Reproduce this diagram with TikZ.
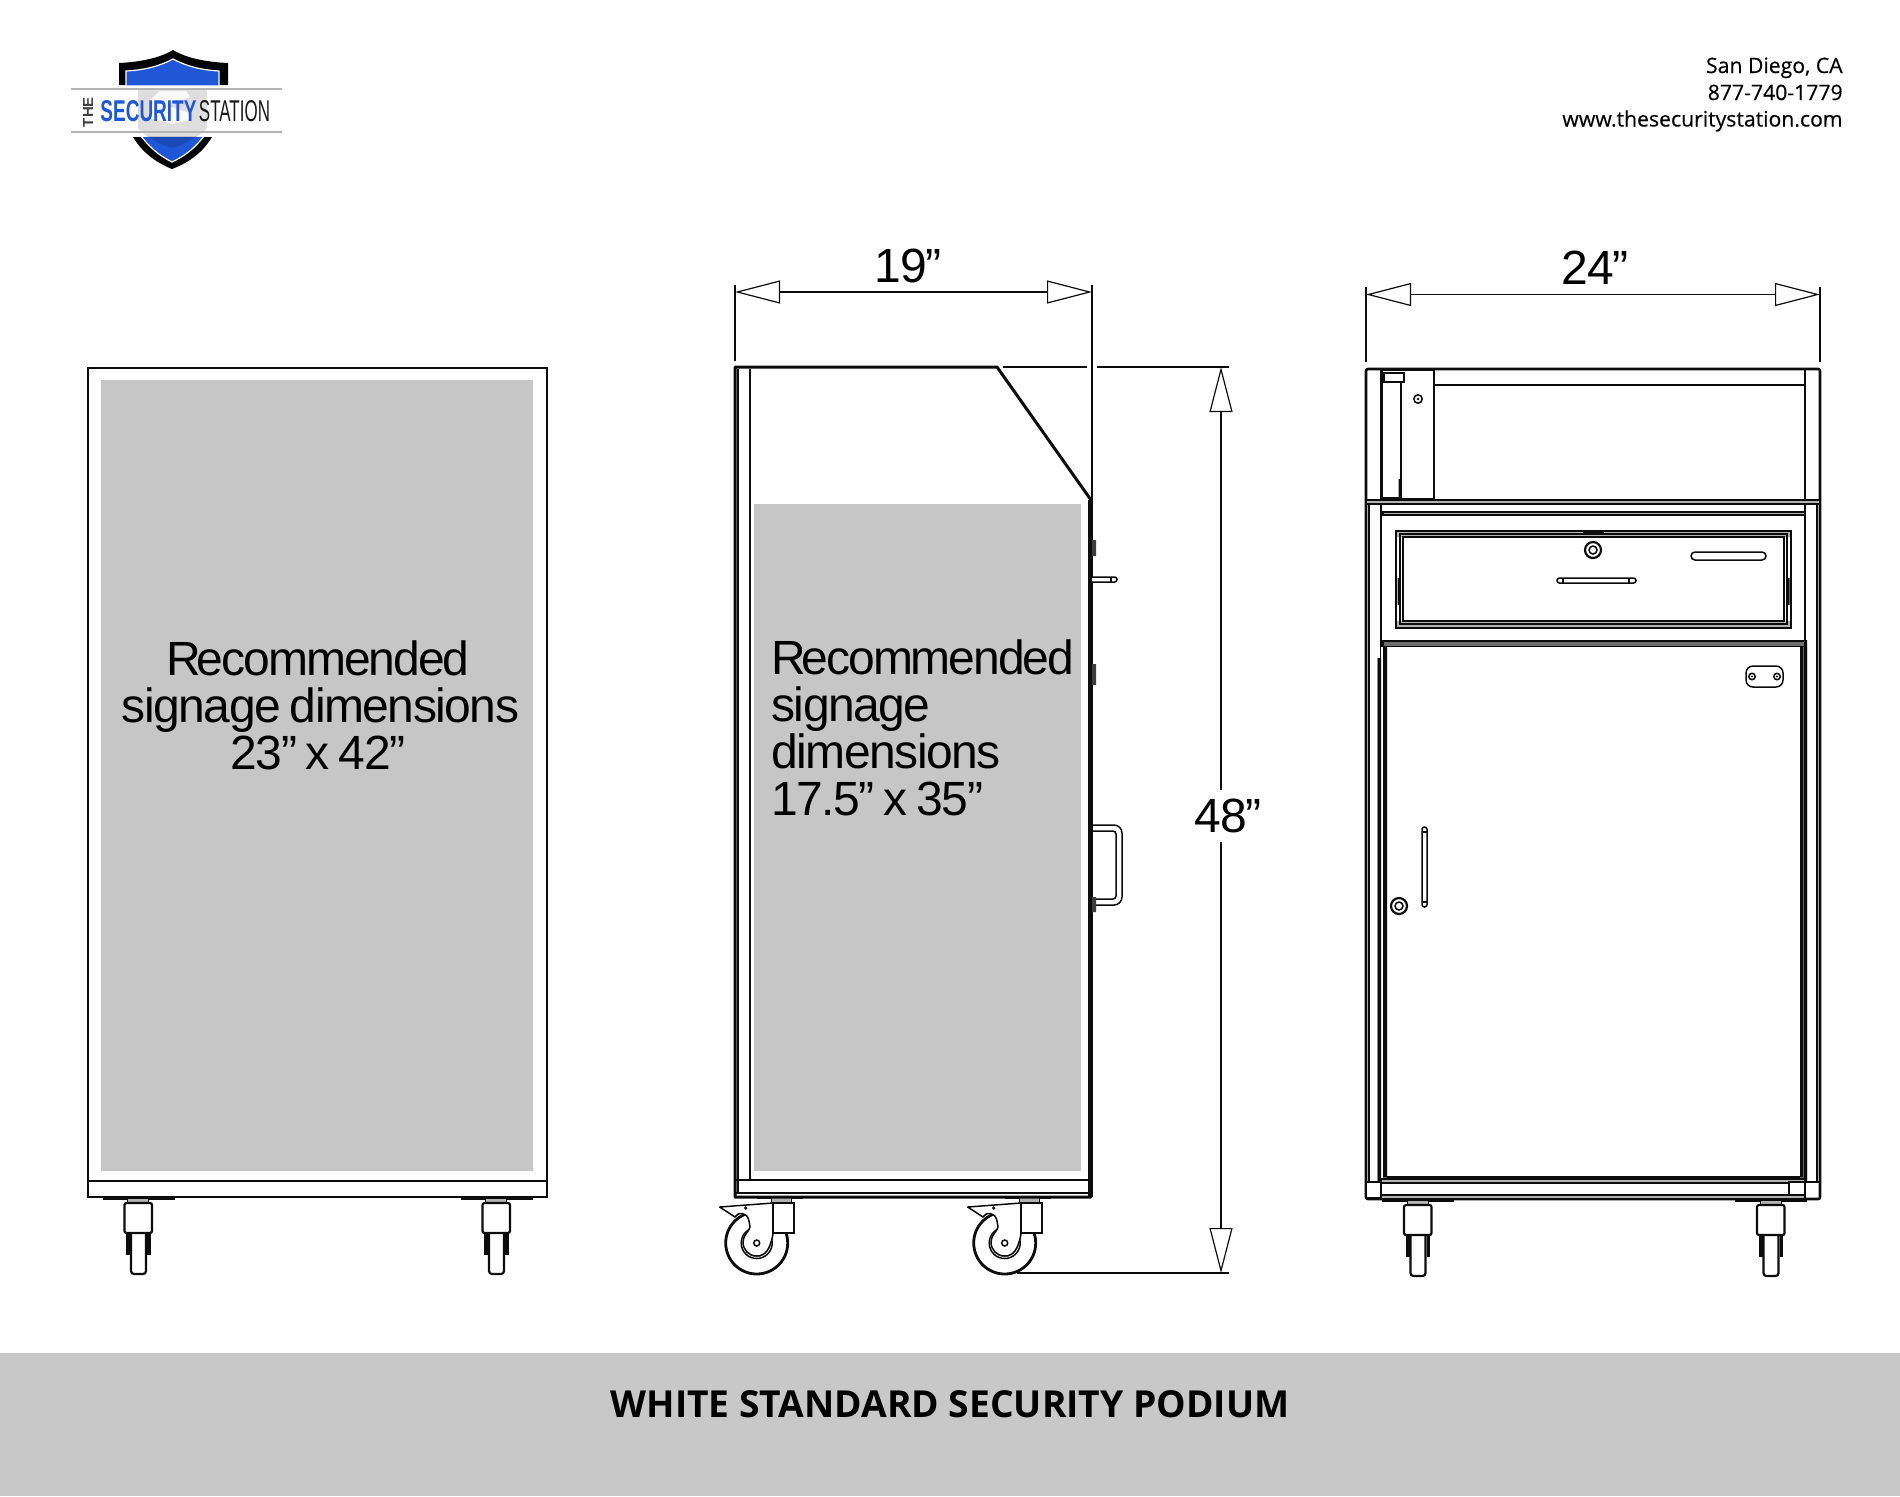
\documentclass[tikz,border=0pt]{standalone}
\usepackage{fontspec}
\usepackage{graphicx}
\usetikzlibrary{arrows.meta}
\setmainfont{Open Sans}
\newfontfamily\headf[FakeBold=0.35]{Open Sans}
\newfontfamily\dimf[LetterSpace=-3.1,WordSpace=0.75]{Liberation Sans}
\newfontfamily\logof{Liberation Sans}
\definecolor{sign}{HTML}{C6C6C6}
\definecolor{band}{HTML}{C8C8C8}
\definecolor{lblue}{HTML}{1F57D6}
\definecolor{lgray}{HTML}{B4B4B4}
\definecolor{dgray}{HTML}{6E6E6E}
\definecolor{ink}{HTML}{0C0C0C}
\tikzset{
 x=0.5pt,y=-0.5pt,
 hv/.style={draw=ink,line width=1.3pt,line join=miter},
 md/.style={draw=ink,line width=.75pt},
 hr/.style={draw=ink,line width=.5pt},
 signbox/.style={fill=sign,draw=none},
 dimline/.style={draw=ink,line width=.6pt,{Triangle[open,length=22.5pt,width=11.5pt,fill=white]}-{Triangle[open,length=22.5pt,width=11.5pt,fill=white]}},
 extline/.style={draw=ink,line width=.6pt},
 dimtext/.style={font=\dimf\fontsize{24}{24}\selectfont,inner sep=0pt,text=black},
 signtext/.style={font=\dimf\fontsize{24}{23.5}\selectfont,inner sep=0pt,text=black},
 headtext/.style={font=\headf\fontsize{10.6}{13.4}\selectfont,anchor=base east,inner sep=0pt,text=black},
}
\newcommand{\Rec}{{\addfontfeature{LetterSpace=-4.2}R\kern-2.2pt ecommended}}
\newcommand{\fcaster}[2]{%
 \begin{scope}[shift={(#1,#2)}]
  \fill[ink] (-22,-6) rectangle (50,-3.5);
  \filldraw[hr,fill=lgray] (3,-5) rectangle (24,0);
  \fill[ink] (1.5,30) rectangle (26,52);
  \draw[hr,white] (6,30) -- (6,52) (22,30) -- (22,52);
  \draw[md,fill=white,line width=1.1pt,rounded corners=1.5pt] (6.5,30) -- (6.5,71) -- (21.5,71) -- (21.5,30);
  \draw[hv,line width=1.1pt,fill=white,rounded corners=1pt] (0,0) rectangle (27.5,30);
 \end{scope}}
\newcommand{\scaster}[2]{%
 \begin{scope}[shift={(#1,#2)}]
  \fill[ink] (-16,-6) rectangle (30,-4);
  \filldraw[hr,fill=lgray] (-2,-6) rectangle (18,0);
  \draw[draw=ink,line width=1.4pt,fill=white] (-16.3,40) circle (31);
  \draw[md,fill=white] (-16.3,40) circle (15.5);
  \draw[draw=lgray,line width=.6pt] (-16.3,40) circle (13.5);
  \draw[md,fill=white,line join=round] (0,0) -- (-53.3,4) -- (-38,14) .. controls (-35,10) and (-32,10) .. (-30,10.7)
    .. controls (-24,12) and (-24,18) .. (-23,24) .. controls (-24,29) and (-29,30) .. (-30,39)
    .. controls (-30,47) and (-24,53) .. (-16.3,53) .. controls (-8,53) and (-3,47) .. (0,31) -- cycle;
  \fill[ink] (-27.3,5) circle (1.8);
  \draw[md,fill=white] (-16.3,40) circle (3);
  \draw[hv,line width=1pt,fill=white] (0,0) rectangle (20.5,30);
 \end{scope}}
\begin{document}
\begin{tikzpicture}
\useasboundingbox (0,0) rectangle (1900,1496);
\fill[white] (0,0) rectangle (1900,1496);
%% logo
\fill[black] (173,50) .. controls (160,58) and (140,62) .. (119,63) -- (119,85) -- (228,85) -- (228,63) .. controls (206,62) and (186,58) .. (173,50) -- cycle;
\filldraw[draw=white,line width=.6pt,fill=lblue] (173,59) .. controls (160,66) and (145,70) .. (126,71) -- (126,86) -- (219,86) -- (219,71) .. controls (201,70) and (186,66) .. (173,59) -- cycle;
\fill[black] (133,137) .. controls (142,152) and (155,162) .. (172,169) .. controls (190,162) and (203,152) .. (212,137) -- cycle;
\filldraw[draw=white,line width=.6pt,fill=lblue] (141,136) .. controls (150,148) and (160,156) .. (172,162) .. controls (185,156) and (195,148) .. (204,136) -- cycle;
\fill[white] (71,86) rectangle (282,136.5);
\begin{scope}
 \clip (120,86) rectangle (225,136.5);
 \fill[black!13] (138,88) -- (207,88) -- (207,128) .. controls (200,136) and (186,144) .. (172,148) .. controls (158,144) and (145,136) .. (138,128) -- cycle;
\end{scope}
\begin{scope}
 \clip (120,136.5) rectangle (225,160);
 \fill[black,opacity=.14] (138,88) -- (207,88) -- (207,128) .. controls (200,136) and (186,144) .. (172,148) .. controls (158,144) and (145,136) .. (138,128) -- cycle;
\end{scope}
\fill[white,opacity=.85] (160,91) -- (186,91) -- (190,97) -- (168,106) -- (190,113) -- (190,120) -- (172,124) -- (150,118) -- (150,100) -- cycle;
\draw[draw=lgray,line width=.8pt] (71,89) -- (282,89) (71,132) -- (282,132);
\node[inner sep=0pt,rotate=90,text=black!75] (lthe) at (88,112) {\resizebox{15pt}{5pt}{\logof\bfseries THE}};
\node[inner sep=0pt,text=lblue] (lsec) at (148.5,111.5) {\resizebox{48pt}{10.5pt}{\logof\bfseries SECURITY}};
\node[inner sep=0pt,text=black!90] (lsta) at (234.5,111.5) {\resizebox{35.5pt}{10.5pt}{\logof STATION}};
%% header
\node[headtext] (h1) at (1843,73) {San Diego, CA};
\node[headtext] (h2) at (1843,100) {877-740-1779};
\node[headtext] (h3) at (1843,126.5) {www.thesecuritystation.com};
%% left view
\fcaster{124.5}{1203}
\fcaster{482.5}{1203}
\draw[hv] (88,368) rectangle (547,1197);
\draw[md] (88,1181) -- (547,1181);
\fill[signbox] (101,380) rectangle (533,1171);
\node[signtext,align=center] (s1) at (318,705) {\Rec\\\hspace*{2.5pt}signage dimensions\\23” x 42”};
%% side view
\scaster{773}{1203}
\scaster{1021}{1203}
\fill[white] (735,367) -- (997,367) -- (1092,500) -- (1092,1197) -- (735,1197) -- cycle;
\draw[hv,line width=1.5pt,line join=round] (735,1197) -- (735,367) -- (997,367) -- (1091,500) -- (1091,1197) -- cycle;
\draw[md] (738,369) -- (738,1193) (750,369) -- (750,1180);
\draw[md] (735,1180) -- (1091,1180);
\draw[md] (735,1193) -- (1091,1193);
\fill[ink] (1088,500) rectangle (1093,1197);
\fill[signbox] (754,504) rectangle (1081,1171);
\node[signtext,align=left,anchor=north west] (s2) at (771,639) {\Rec\\signage\\dimensions\\17.5” x 35”};
%% side hardware
\fill[ink!80] (1092,540) rectangle (1096,556) (1092,664) rectangle (1096,685) (1092,897) rectangle (1096,912);
\draw[md,fill=white,rounded corners=1.2pt] (1092,577) -- (1117,577) -- (1117,582) -- (1092,582);
\draw[md] (1111,577) -- (1111,582);
\draw[md,rounded corners=4pt] (1092,825) -- (1122,825) -- (1122,905) -- (1096,905);
\draw[md,rounded corners=1.5pt] (1092,831) -- (1116,831) -- (1116,899) -- (1096,899);
%% right view
\fcaster{1404}{1205}
\fcaster{1757}{1205}
\fill[white] (1366,369) rectangle (1820,1199);
\draw[hv,rounded corners=1pt] (1366,369) rectangle (1820,1199);
\draw[md] (1369,504) -- (1369,1182) (1817,504) -- (1817,1182);
\draw[md] (1381,369) -- (1381,658) (1805,369) -- (1805,1182);
\filldraw[draw=ink,line width=.7pt,fill=lgray] (1366,500) rectangle (1820,504);
\filldraw[draw=ink,line width=.7pt,fill=lgray] (1383,512) rectangle (1805,515);
\filldraw[draw=ink,line width=.7pt,fill=dgray] (1383,641) rectangle (1805,647);
\draw[md] (1434,385) -- (1805,385);
%% top-left bracket
\draw[md] (1382,370) rectangle (1434,499);
\draw[md] (1401,382) -- (1401,499);
\draw[md,fill=white] (1384,373) rectangle (1404,382);
\fill[ink] (1382,497) rectangle (1400,500) (1398.5,479) rectangle (1401,499);
\draw[md] (1418,399) circle (4.2);
\fill[ink] (1418,399) circle (1.4);
%% drawer
\fill[lgray] (1396,531) rectangle (1791,537) (1396,621) rectangle (1791,628);
\draw[hr,line width=.6pt] (1396,531) rectangle (1791,628);
\draw[hr,line width=.7pt] (1400,534) rectangle (1787,624);
\draw[hr,line width=.6pt] (1403,537) rectangle (1784,621);
\fill[ink] (1397.5,578) rectangle (1400,605) (1787,578) rectangle (1789.5,605);
\fill[ink] (1583,531) rectangle (1604,533.5);
\draw[draw=ink,line width=1.1pt] (1593,550) circle (8);
\draw[md] (1593,550) circle (4);
\draw[md,rounded corners=2pt] (1691,552) rectangle (1766,560);
\draw[md,rounded corners=1.2pt] (1557,578) rectangle (1636,583);
\draw[md] (1563,578) -- (1563,583) (1629,578) -- (1629,583);
%% door
\fill[dgray] (1377.5,658) -- (1381,658) -- (1381,647) -- (1807,647) -- (1807,1182) -- (1377.5,1182) -- cycle;
\fill[white] (1387,647) rectangle (1800,1177);
\fill[white] (1381.2,647) rectangle (1382.8,1182);
\fill[ink] (1377.5,658) rectangle (1381,1182) (1383,647) rectangle (1387,1177) (1800,647) rectangle (1803,1177) (1804,640) rectangle (1807,1182);
\fill[ink] (1387,1176) rectangle (1800,1178.5);
\draw[draw=ink,line width=.8pt,fill=lgray] (1381,1179) rectangle (1805,1183);
\draw[md,rounded corners=3.5pt] (1746,666) rectangle (1783,687);
\draw[md] (1752,676.5) circle (3.2) (1777,676.5) circle (3.2);
\fill[ink] (1752,676.5) circle (1.1) (1777,676.5) circle (1.1);
\draw[md,rounded corners=1.2pt] (1422,827) rectangle (1427,907);
\draw[md] (1422,832) -- (1427,832) (1422,902) -- (1427,902);
\draw[draw=ink,line width=1.1pt] (1399,906) circle (8);
\draw[md] (1399,906) circle (4);
%% bottom rail
\draw[md,fill=white] (1366,1182) rectangle (1381,1198);
\draw[md,fill=white] (1789,1182) rectangle (1805,1197);
\draw[md] (1805,1182) -- (1820,1182);
\filldraw[draw=ink,line width=.7pt,fill=lgray] (1381,1195) rectangle (1805,1199);
%% dimensions
\coordinate (a19) at (735,292); \coordinate (b19) at (1092,292);
\coordinate (a24) at (1366,294.5); \coordinate (b24) at (1820,294.5);
\coordinate (a48) at (1221,367); \coordinate (b48) at (1221,1273);
\draw[extline] (735,285) -- (735,361) (1092,285) -- (1092,500);
\draw[extline] (1366,287) -- (1366,362) (1820,287) -- (1820,362);
\draw[extline] (1003,367) -- (1087,367) (1097,367) -- (1229,367);
\draw[extline] (1017,1273) -- (1229,1273);
\draw[dimline] (a19) -- (b19);
\draw[dimline] (a24) -- (b24);
\draw[dimline] (a48) -- (b48);
\node[dimtext] (t19) at (908,266) {19”};
\node[dimtext] (t24) at (1595,268) {24”};
\node[dimtext,fill=white,minimum height=26pt] (t48) at (1228,816) {48”};
%% footer
\fill[band] (0,1353) rectangle (1900,1496);
\node[inner sep=0pt,text=black,font=\fontsize{18.6}{20}\selectfont\bfseries] (ft) at (950,1404) {WHITE STANDARD SECURITY PODIUM};
\end{tikzpicture}
\end{document}
